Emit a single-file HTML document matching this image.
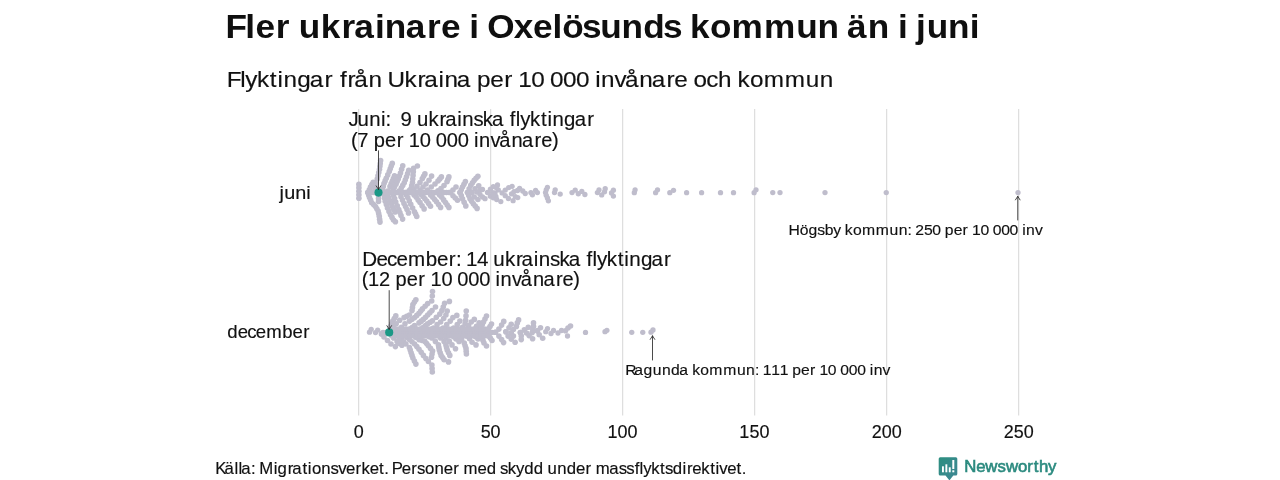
<!DOCTYPE html>
<html><head><meta charset="utf-8"><title>Chart</title>
<style>
html,body{margin:0;padding:0;background:#fff;}
svg{display:block;font-family:"Liberation Sans",sans-serif;will-change:transform;}
</style></head><body>
<svg width="1280" height="480" viewBox="0 0 1280 480">
<rect width="1280" height="480" fill="#fff"/>
<line x1="358.65" y1="109" x2="358.65" y2="415.5" stroke="#dcdcdc" stroke-width="1.15"/>
<line x1="490.65" y1="109" x2="490.65" y2="415.5" stroke="#dcdcdc" stroke-width="1.15"/>
<line x1="622.65" y1="109" x2="622.65" y2="415.5" stroke="#dcdcdc" stroke-width="1.15"/>
<line x1="754.65" y1="109" x2="754.65" y2="415.5" stroke="#dcdcdc" stroke-width="1.15"/>
<line x1="886.65" y1="109" x2="886.65" y2="415.5" stroke="#dcdcdc" stroke-width="1.15"/>
<line x1="1018.65" y1="109" x2="1018.65" y2="415.5" stroke="#dcdcdc" stroke-width="1.15"/>
<g fill="#bfbdcc">
<circle cx="358.9" cy="184.4" r="2.8"/>
<circle cx="358.9" cy="187.85" r="2.8"/>
<circle cx="358.9" cy="191.3" r="2.8"/>
<circle cx="358.9" cy="194.75" r="2.8"/>
<circle cx="358.9" cy="198.2" r="2.8"/>
<circle cx="368.2" cy="192.5" r="2.8"/>
<circle cx="369.35" cy="189.75" r="2.8"/>
<circle cx="370.5" cy="187.0" r="2.8"/>
<circle cx="371.85" cy="184.6" r="2.8"/>
<circle cx="373.2" cy="182.2" r="2.8"/>
<circle cx="367.8" cy="192.5" r="2.8"/>
<circle cx="368.65" cy="195.0" r="2.8"/>
<circle cx="369.5" cy="197.5" r="2.8"/>
<circle cx="370.62" cy="200.12" r="2.8"/>
<circle cx="371.75" cy="202.75" r="2.8"/>
<circle cx="373.62" cy="204.62" r="2.8"/>
<circle cx="375.5" cy="206.5" r="2.8"/>
<circle cx="376.8" cy="208.75" r="2.8"/>
<circle cx="378.1" cy="211.0" r="2.8"/>
<circle cx="378.68" cy="213.62" r="2.8"/>
<circle cx="379.25" cy="216.25" r="2.8"/>
<circle cx="379.62" cy="219.18" r="2.8"/>
<circle cx="380" cy="222.1" r="2.8"/>
<circle cx="374.5" cy="192.5" r="2.8"/>
<circle cx="374.92" cy="189.5" r="2.8"/>
<circle cx="375.33" cy="186.5" r="2.8"/>
<circle cx="375.75" cy="183.5" r="2.8"/>
<circle cx="377.25" cy="179.0" r="2.8"/>
<circle cx="378.0" cy="175.75" r="2.8"/>
<circle cx="378.75" cy="172.5" r="2.8"/>
<circle cx="379.5" cy="169.25" r="2.8"/>
<circle cx="379.87" cy="166.37" r="2.8"/>
<circle cx="380.23" cy="163.48" r="2.8"/>
<circle cx="380.6" cy="160.6" r="2.8"/>
<circle cx="378.5" cy="192.5" r="2.8"/>
<circle cx="378.5" cy="195.5" r="2.8"/>
<circle cx="378.5" cy="198.5" r="2.8"/>
<circle cx="378.5" cy="201.5" r="2.8"/>
<circle cx="381.0" cy="192.5" r="2.8"/>
<circle cx="382.5" cy="189.5" r="2.8"/>
<circle cx="383.25" cy="186.5" r="2.8"/>
<circle cx="384.0" cy="183.5" r="2.8"/>
<circle cx="385.12" cy="180.88" r="2.8"/>
<circle cx="386.25" cy="178.25" r="2.8"/>
<circle cx="387.75" cy="174.88" r="2.8"/>
<circle cx="389.25" cy="171.5" r="2.8"/>
<circle cx="390.25" cy="168.8" r="2.8"/>
<circle cx="391.25" cy="166.1" r="2.8"/>
<circle cx="392.25" cy="163.4" r="2.8"/>
<circle cx="382.5" cy="192.5" r="2.8"/>
<circle cx="383.75" cy="194.5" r="2.8"/>
<circle cx="384.5" cy="197.88" r="2.8"/>
<circle cx="385.25" cy="201.25" r="2.8"/>
<circle cx="386.38" cy="204.62" r="2.8"/>
<circle cx="387.5" cy="208.0" r="2.8"/>
<circle cx="389.0" cy="211.38" r="2.8"/>
<circle cx="390.5" cy="214.75" r="2.8"/>
<circle cx="392.0" cy="217.38" r="2.8"/>
<circle cx="393.5" cy="220.0" r="2.8"/>
<circle cx="395.4" cy="221.8" r="2.8"/>
<circle cx="386.8" cy="192.5" r="2.8"/>
<circle cx="387.75" cy="191.0" r="2.8"/>
<circle cx="390.0" cy="186.5" r="2.8"/>
<circle cx="391.12" cy="183.88" r="2.8"/>
<circle cx="392.25" cy="181.25" r="2.8"/>
<circle cx="393.38" cy="178.53" r="2.8"/>
<circle cx="394.5" cy="175.8" r="2.8"/>
<circle cx="386.5" cy="192.5" r="2.8"/>
<circle cx="387.5" cy="194.5" r="2.8"/>
<circle cx="389.0" cy="197.88" r="2.8"/>
<circle cx="390.5" cy="201.25" r="2.8"/>
<circle cx="391.62" cy="204.25" r="2.8"/>
<circle cx="392.75" cy="207.25" r="2.8"/>
<circle cx="393.88" cy="209.57" r="2.8"/>
<circle cx="395" cy="211.9" r="2.8"/>
<circle cx="391.5" cy="192.5" r="2.8"/>
<circle cx="393.0" cy="189.5" r="2.8"/>
<circle cx="394.5" cy="186.88" r="2.8"/>
<circle cx="396.0" cy="184.25" r="2.8"/>
<circle cx="397.12" cy="181.62" r="2.8"/>
<circle cx="398.25" cy="179.0" r="2.8"/>
<circle cx="399.38" cy="176.0" r="2.8"/>
<circle cx="400.5" cy="173.0" r="2.8"/>
<circle cx="401.62" cy="169.35" r="2.8"/>
<circle cx="402.75" cy="165.7" r="2.8"/>
<circle cx="392.0" cy="192.5" r="2.8"/>
<circle cx="393.5" cy="195.25" r="2.8"/>
<circle cx="394.62" cy="198.62" r="2.8"/>
<circle cx="395.75" cy="202.0" r="2.8"/>
<circle cx="397.25" cy="205.75" r="2.8"/>
<circle cx="398.75" cy="209.5" r="2.8"/>
<circle cx="399.88" cy="212.5" r="2.8"/>
<circle cx="401.0" cy="215.5" r="2.8"/>
<circle cx="402.6" cy="219.1" r="2.8"/>
<circle cx="398.0" cy="192.5" r="2.8"/>
<circle cx="399.0" cy="191.0" r="2.8"/>
<circle cx="401.25" cy="188.0" r="2.8"/>
<circle cx="402.75" cy="185.38" r="2.8"/>
<circle cx="404.25" cy="182.75" r="2.8"/>
<circle cx="405.38" cy="179.75" r="2.8"/>
<circle cx="406.5" cy="176.75" r="2.8"/>
<circle cx="407.62" cy="173.47" r="2.8"/>
<circle cx="408.75" cy="170.2" r="2.8"/>
<circle cx="398.5" cy="192.5" r="2.8"/>
<circle cx="401.0" cy="196.75" r="2.8"/>
<circle cx="402.5" cy="200.12" r="2.8"/>
<circle cx="404.0" cy="203.5" r="2.8"/>
<circle cx="405.5" cy="206.5" r="2.8"/>
<circle cx="407.0" cy="209.5" r="2.8"/>
<circle cx="408.5" cy="212.9" r="2.8"/>
<circle cx="407.5" cy="192.5" r="2.8"/>
<circle cx="409.25" cy="190.5" r="2.8"/>
<circle cx="411.0" cy="188.5" r="2.8"/>
<circle cx="411.75" cy="185.5" r="2.8"/>
<circle cx="412.5" cy="182.5" r="2.8"/>
<circle cx="412.77" cy="178.94" r="2.8"/>
<circle cx="413.05" cy="175.38" r="2.8"/>
<circle cx="413.33" cy="171.81" r="2.8"/>
<circle cx="413.6" cy="168.25" r="2.8"/>
<circle cx="417.4" cy="166" r="2.8"/>
<circle cx="405.0" cy="192.5" r="2.8"/>
<circle cx="406.38" cy="195.0" r="2.8"/>
<circle cx="407.75" cy="197.5" r="2.8"/>
<circle cx="409.25" cy="200.88" r="2.8"/>
<circle cx="410.75" cy="204.25" r="2.8"/>
<circle cx="412.62" cy="208.0" r="2.8"/>
<circle cx="414.5" cy="211.75" r="2.8"/>
<circle cx="415.62" cy="214.12" r="2.8"/>
<circle cx="416.75" cy="216.5" r="2.8"/>
<circle cx="411.0" cy="192.5" r="2.8"/>
<circle cx="414.0" cy="189.25" r="2.8"/>
<circle cx="417.0" cy="186.25" r="2.8"/>
<circle cx="420.0" cy="182.5" r="2.8"/>
<circle cx="422.25" cy="178.75" r="2.8"/>
<circle cx="423.57" cy="176.32" r="2.8"/>
<circle cx="424.9" cy="173.9" r="2.8"/>
<circle cx="412.0" cy="192.5" r="2.8"/>
<circle cx="414.12" cy="194.88" r="2.8"/>
<circle cx="416.25" cy="197.25" r="2.8"/>
<circle cx="418.12" cy="199.88" r="2.8"/>
<circle cx="420.0" cy="202.5" r="2.8"/>
<circle cx="422.05" cy="205.7" r="2.8"/>
<circle cx="424.1" cy="208.9" r="2.8"/>
<circle cx="417.5" cy="192.5" r="2.8"/>
<circle cx="420.0" cy="190.0" r="2.8"/>
<circle cx="423.0" cy="187.0" r="2.8"/>
<circle cx="426.0" cy="184.0" r="2.8"/>
<circle cx="429.0" cy="180.25" r="2.8"/>
<circle cx="431.6" cy="176.1" r="2.8"/>
<circle cx="419.0" cy="192.5" r="2.8"/>
<circle cx="421.0" cy="194.5" r="2.8"/>
<circle cx="423.0" cy="196.5" r="2.8"/>
<circle cx="424.88" cy="198.75" r="2.8"/>
<circle cx="426.75" cy="201.0" r="2.8"/>
<circle cx="428.62" cy="203.62" r="2.8"/>
<circle cx="430.5" cy="206.25" r="2.8"/>
<circle cx="425.0" cy="192.5" r="2.8"/>
<circle cx="427.5" cy="190.0" r="2.8"/>
<circle cx="431.25" cy="187.0" r="2.8"/>
<circle cx="435.0" cy="184.0" r="2.8"/>
<circle cx="438.0" cy="181.0" r="2.8"/>
<circle cx="439.7" cy="178.95" r="2.8"/>
<circle cx="441.4" cy="176.9" r="2.8"/>
<circle cx="428.5" cy="192.5" r="2.8"/>
<circle cx="430.62" cy="194.88" r="2.8"/>
<circle cx="432.75" cy="197.25" r="2.8"/>
<circle cx="434.62" cy="199.5" r="2.8"/>
<circle cx="436.5" cy="201.75" r="2.8"/>
<circle cx="438.55" cy="204.57" r="2.8"/>
<circle cx="440.6" cy="207.4" r="2.8"/>
<circle cx="436.0" cy="192.5" r="2.8"/>
<circle cx="438.0" cy="190.75" r="2.8"/>
<circle cx="441.0" cy="188.5" r="2.8"/>
<circle cx="444.0" cy="185.5" r="2.8"/>
<circle cx="447.0" cy="181.75" r="2.8"/>
<circle cx="447.95" cy="179.32" r="2.8"/>
<circle cx="448.9" cy="176.9" r="2.8"/>
<circle cx="437.5" cy="192.5" r="2.8"/>
<circle cx="439.62" cy="194.88" r="2.8"/>
<circle cx="441.75" cy="197.25" r="2.8"/>
<circle cx="443.62" cy="199.88" r="2.8"/>
<circle cx="445.5" cy="202.5" r="2.8"/>
<circle cx="447.2" cy="204.95" r="2.8"/>
<circle cx="448.9" cy="207.4" r="2.8"/>
<circle cx="368.0" cy="192.5" r="2.8"/>
<circle cx="370.53" cy="192.5" r="2.8"/>
<circle cx="373.06" cy="192.5" r="2.8"/>
<circle cx="375.59" cy="192.5" r="2.8"/>
<circle cx="378.12" cy="192.5" r="2.8"/>
<circle cx="380.66" cy="192.5" r="2.8"/>
<circle cx="383.19" cy="192.5" r="2.8"/>
<circle cx="385.72" cy="192.5" r="2.8"/>
<circle cx="388.25" cy="192.5" r="2.8"/>
<circle cx="390.78" cy="192.5" r="2.8"/>
<circle cx="393.31" cy="192.5" r="2.8"/>
<circle cx="395.84" cy="192.5" r="2.8"/>
<circle cx="398.38" cy="192.5" r="2.8"/>
<circle cx="400.91" cy="192.5" r="2.8"/>
<circle cx="403.44" cy="192.5" r="2.8"/>
<circle cx="405.97" cy="192.5" r="2.8"/>
<circle cx="408.5" cy="192.5" r="2.8"/>
<circle cx="411.03" cy="192.5" r="2.8"/>
<circle cx="413.56" cy="192.5" r="2.8"/>
<circle cx="416.09" cy="192.5" r="2.8"/>
<circle cx="418.62" cy="192.5" r="2.8"/>
<circle cx="421.16" cy="192.5" r="2.8"/>
<circle cx="423.69" cy="192.5" r="2.8"/>
<circle cx="426.22" cy="192.5" r="2.8"/>
<circle cx="428.75" cy="192.5" r="2.8"/>
<circle cx="431.28" cy="192.5" r="2.8"/>
<circle cx="433.81" cy="192.5" r="2.8"/>
<circle cx="436.34" cy="192.5" r="2.8"/>
<circle cx="438.88" cy="192.5" r="2.8"/>
<circle cx="441.41" cy="192.5" r="2.8"/>
<circle cx="443.94" cy="192.5" r="2.8"/>
<circle cx="446.47" cy="192.5" r="2.8"/>
<circle cx="449" cy="192.5" r="2.8"/>
<circle cx="450.3" cy="192.5" r="2.8"/>
<circle cx="453.0" cy="190.0" r="2.8"/>
<circle cx="456" cy="187" r="2.8"/>
<circle cx="450.3" cy="192.5" r="2.8"/>
<circle cx="453.0" cy="195.75" r="2.8"/>
<circle cx="455.25" cy="198.0" r="2.8"/>
<circle cx="457.5" cy="200.25" r="2.8"/>
<circle cx="460.0" cy="192.5" r="2.8"/>
<circle cx="461.25" cy="189.75" r="2.8"/>
<circle cx="462.5" cy="187.0" r="2.8"/>
<circle cx="463.95" cy="184.3" r="2.8"/>
<circle cx="465.4" cy="181.6" r="2.8"/>
<circle cx="460.0" cy="192.5" r="2.8"/>
<circle cx="461.25" cy="195.6" r="2.8"/>
<circle cx="462.5" cy="198.7" r="2.8"/>
<circle cx="464.15" cy="202.3" r="2.8"/>
<circle cx="465.8" cy="205.9" r="2.8"/>
<circle cx="467.5" cy="192.5" r="2.8"/>
<circle cx="469.15" cy="188.9" r="2.8"/>
<circle cx="470.8" cy="185.3" r="2.8"/>
<circle cx="472.5" cy="182.8" r="2.8"/>
<circle cx="474.2" cy="180.3" r="2.8"/>
<circle cx="476.05" cy="178.25" r="2.8"/>
<circle cx="477.9" cy="176.2" r="2.8"/>
<circle cx="467.5" cy="192.5" r="2.8"/>
<circle cx="468.75" cy="195.6" r="2.8"/>
<circle cx="470.0" cy="198.7" r="2.8"/>
<circle cx="471.65" cy="201.2" r="2.8"/>
<circle cx="473.3" cy="203.7" r="2.8"/>
<circle cx="475.2" cy="206.05" r="2.8"/>
<circle cx="477.1" cy="208.4" r="2.8"/>
<circle cx="471.9" cy="192.5" r="2.8"/>
<circle cx="475.0" cy="188.7" r="2.8"/>
<circle cx="478.75" cy="185.75" r="2.8"/>
<circle cx="471.9" cy="192.5" r="2.8"/>
<circle cx="474.2" cy="197.0" r="2.8"/>
<circle cx="477.9" cy="199.5" r="2.8"/>
<circle cx="477.1" cy="192.2" r="2.65"/>
<circle cx="480" cy="189.9" r="2.65"/>
<circle cx="482.5" cy="189.5" r="2.65"/>
<circle cx="480" cy="194.5" r="2.65"/>
<circle cx="482.5" cy="197" r="2.65"/>
<circle cx="485" cy="198.7" r="2.65"/>
<circle cx="487.5" cy="192.5" r="2.65"/>
<circle cx="490.4" cy="189.1" r="2.65"/>
<circle cx="493.3" cy="186.6" r="2.65"/>
<circle cx="497.5" cy="184.9" r="2.65"/>
<circle cx="490.4" cy="196.2" r="2.65"/>
<circle cx="493.3" cy="197.8" r="2.65"/>
<circle cx="495" cy="192.8" r="2.65"/>
<circle cx="498.3" cy="189.9" r="2.65"/>
<circle cx="496.7" cy="199.5" r="2.65"/>
<circle cx="500.8" cy="201.6" r="2.65"/>
<circle cx="492.6" cy="192.6" r="2.65"/>
<circle cx="495.9" cy="196.4" r="2.65"/>
<circle cx="493.3" cy="194.9" r="2.65"/>
<circle cx="496.2" cy="187.5" r="2.65"/>
<circle cx="502.1" cy="192.9" r="2.65"/>
<circle cx="505.25" cy="190.1" r="2.65"/>
<circle cx="508.7" cy="187.6" r="2.65"/>
<circle cx="512.1" cy="186.3" r="2.65"/>
<circle cx="505.25" cy="195.7" r="2.65"/>
<circle cx="508.4" cy="198.5" r="2.65"/>
<circle cx="513.1" cy="200.7" r="2.65"/>
<circle cx="511.5" cy="193.8" r="2.65"/>
<circle cx="514" cy="191.6" r="2.65"/>
<circle cx="515.25" cy="196.6" r="2.65"/>
<circle cx="517.75" cy="197.6" r="2.65"/>
<circle cx="519.6" cy="188.5" r="2.65"/>
<circle cx="522.75" cy="191" r="2.65"/>
<circle cx="525.25" cy="193.5" r="2.65"/>
<circle cx="517.5" cy="190.5" r="2.65"/>
<circle cx="530.9" cy="192.6" r="2.65"/>
<circle cx="532.4" cy="194.75" r="2.65"/>
<circle cx="535.6" cy="190.4" r="2.65"/>
<circle cx="537.4" cy="192.6" r="2.65"/>
<circle cx="545.5" cy="192.6" r="2.65"/>
<circle cx="546.25" cy="189.8" r="2.65"/>
<circle cx="547.4" cy="187.3" r="2.65"/>
<circle cx="546.25" cy="195.3" r="2.65"/>
<circle cx="547.4" cy="198" r="2.65"/>
<circle cx="548.4" cy="200.8" r="2.65"/>
<circle cx="555.2" cy="189.8" r="2.65"/>
<circle cx="554.5" cy="192.6" r="2.65"/>
<circle cx="560.2" cy="194.1" r="2.65"/>
<circle cx="572" cy="192.6" r="2.65"/>
<circle cx="575.2" cy="190.2" r="2.65"/>
<circle cx="578.3" cy="193.75" r="2.65"/>
<circle cx="581.8" cy="191.4" r="2.65"/>
<circle cx="584.9" cy="194.5" r="2.65"/>
<circle cx="597.4" cy="192.6" r="2.65"/>
<circle cx="599" cy="189.8" r="2.65"/>
<circle cx="601.7" cy="194.9" r="2.65"/>
<circle cx="604.5" cy="191.8" r="2.65"/>
<circle cx="605.2" cy="188.7" r="2.65"/>
<circle cx="611.5" cy="193" r="2.65"/>
<circle cx="613.4" cy="190.2" r="2.65"/>
<circle cx="613.4" cy="196.1" r="2.65"/>
<circle cx="634.3" cy="192.7" r="2.65"/>
<circle cx="635.1" cy="189.8" r="2.65"/>
<circle cx="655.6" cy="192.7" r="2.65"/>
<circle cx="657.5" cy="189.8" r="2.65"/>
<circle cx="669.8" cy="192.7" r="2.65"/>
<circle cx="673.5" cy="190.3" r="2.65"/>
<circle cx="686.6" cy="192.7" r="2.65"/>
<circle cx="701.6" cy="192.7" r="2.65"/>
<circle cx="720.5" cy="192.7" r="2.65"/>
<circle cx="733.5" cy="192.7" r="2.65"/>
<circle cx="754.1" cy="192.7" r="2.65"/>
<circle cx="756" cy="189.8" r="2.65"/>
<circle cx="772.75" cy="192.6" r="2.65"/>
<circle cx="780" cy="192.6" r="2.65"/>
<circle cx="825" cy="192.6" r="2.65"/>
<circle cx="886.25" cy="192.6" r="2.65"/>
<circle cx="1018" cy="192.6" r="2.65"/>
<circle cx="369.5" cy="332.2" r="2.65"/>
<circle cx="371.2" cy="329.3" r="2.65"/>
<circle cx="375.5" cy="332.6" r="2.65"/>
<circle cx="377.7" cy="330.1" r="2.65"/>
<circle cx="381.5" cy="334" r="2.65"/>
<circle cx="389.2" cy="332.5" r="2.8"/>
<circle cx="390.1" cy="329.25" r="2.8"/>
<circle cx="391.0" cy="326.0" r="2.8"/>
<circle cx="391.9" cy="323.5" r="2.8"/>
<circle cx="392.8" cy="321.0" r="2.8"/>
<circle cx="394.3" cy="318.45" r="2.8"/>
<circle cx="395.8" cy="315.9" r="2.8"/>
<circle cx="391.0" cy="330.0" r="2.8"/>
<circle cx="393.6" cy="327.2" r="2.8"/>
<circle cx="396.2" cy="323.7" r="2.8"/>
<circle cx="399.7" cy="320.2" r="2.8"/>
<circle cx="404.1" cy="317.6" r="2.8"/>
<circle cx="406.75" cy="316.3" r="2.8"/>
<circle cx="409.4" cy="315.0" r="2.8"/>
<circle cx="412.0" cy="310.6" r="2.8"/>
<circle cx="412.45" cy="307.55" r="2.8"/>
<circle cx="412.9" cy="304.5" r="2.8"/>
<circle cx="414.4" cy="302.1" r="2.8"/>
<circle cx="415.9" cy="299.7" r="2.8"/>
<circle cx="396.5" cy="332.5" r="2.8"/>
<circle cx="398.9" cy="330.7" r="2.8"/>
<circle cx="401.5" cy="327.2" r="2.8"/>
<circle cx="405.0" cy="323.7" r="2.8"/>
<circle cx="409.4" cy="321.1" r="2.8"/>
<circle cx="412.0" cy="319.35" r="2.8"/>
<circle cx="414.6" cy="317.6" r="2.8"/>
<circle cx="416.8" cy="315.4" r="2.8"/>
<circle cx="419.0" cy="313.2" r="2.8"/>
<circle cx="420.75" cy="311.05" r="2.8"/>
<circle cx="422.5" cy="308.9" r="2.8"/>
<circle cx="425.1" cy="306.25" r="2.8"/>
<circle cx="427.7" cy="303.6" r="2.8"/>
<circle cx="431.7" cy="301.0" r="2.8"/>
<circle cx="432.3" cy="296.0" r="2.8"/>
<circle cx="432.5" cy="291.5" r="2.8"/>
<circle cx="405.5" cy="332.5" r="2.8"/>
<circle cx="407.6" cy="331.6" r="2.8"/>
<circle cx="410.2" cy="329.0" r="2.8"/>
<circle cx="412.4" cy="327.25" r="2.8"/>
<circle cx="414.6" cy="325.5" r="2.8"/>
<circle cx="419.0" cy="322.9" r="2.8"/>
<circle cx="421.2" cy="321.15" r="2.8"/>
<circle cx="423.4" cy="319.4" r="2.8"/>
<circle cx="425.55" cy="317.2" r="2.8"/>
<circle cx="427.7" cy="315.0" r="2.8"/>
<circle cx="429.85" cy="312.8" r="2.8"/>
<circle cx="432.0" cy="310.6" r="2.8"/>
<circle cx="435.5" cy="307" r="2.8"/>
<circle cx="416.5" cy="332.5" r="2.8"/>
<circle cx="419.0" cy="330.7" r="2.8"/>
<circle cx="421.2" cy="328.95" r="2.8"/>
<circle cx="423.4" cy="327.2" r="2.8"/>
<circle cx="425.55" cy="325.45" r="2.8"/>
<circle cx="427.7" cy="323.7" r="2.8"/>
<circle cx="430.1" cy="322.2" r="2.8"/>
<circle cx="432.5" cy="320.7" r="2.8"/>
<circle cx="436.3" cy="317.2" r="2.8"/>
<circle cx="439.8" cy="314.1" r="2.8"/>
<circle cx="441.9" cy="310.6" r="2.8"/>
<circle cx="443.25" cy="307.1" r="2.8"/>
<circle cx="444.6" cy="303.2" r="2.8"/>
<circle cx="449.4" cy="301.4" r="2.8"/>
<circle cx="428.0" cy="332.5" r="2.8"/>
<circle cx="430.8" cy="330.3" r="2.8"/>
<circle cx="433.6" cy="328.1" r="2.8"/>
<circle cx="437.1" cy="324.6" r="2.8"/>
<circle cx="440.6" cy="322.0" r="2.8"/>
<circle cx="443.7" cy="318.5" r="2.8"/>
<circle cx="445.9" cy="315.0" r="2.8"/>
<circle cx="447.2" cy="311.1" r="2.8"/>
<circle cx="438.0" cy="332.5" r="2.8"/>
<circle cx="440.6" cy="330.7" r="2.8"/>
<circle cx="443.25" cy="328.1" r="2.8"/>
<circle cx="446.75" cy="324.6" r="2.8"/>
<circle cx="450.25" cy="321.1" r="2.8"/>
<circle cx="452.9" cy="317.6" r="2.8"/>
<circle cx="456.8" cy="315.4" r="2.8"/>
<circle cx="447.5" cy="332.5" r="2.8"/>
<circle cx="450.25" cy="330.7" r="2.8"/>
<circle cx="453.75" cy="328.1" r="2.8"/>
<circle cx="457.25" cy="324.6" r="2.8"/>
<circle cx="459.9" cy="321.1" r="2.8"/>
<circle cx="457.0" cy="332.5" r="2.8"/>
<circle cx="459.9" cy="329.9" r="2.8"/>
<circle cx="462.5" cy="327.2" r="2.8"/>
<circle cx="465.1" cy="323.7" r="2.8"/>
<circle cx="465.6" cy="320.2" r="2.8"/>
<circle cx="466.0" cy="315.9" r="2.8"/>
<circle cx="466.25" cy="311.1" r="2.8"/>
<circle cx="463.5" cy="332.5" r="2.8"/>
<circle cx="466.0" cy="329.0" r="2.8"/>
<circle cx="468.6" cy="325.5" r="2.8"/>
<circle cx="471.25" cy="322.0" r="2.8"/>
<circle cx="474.3" cy="319.4" r="2.8"/>
<circle cx="471.0" cy="332.5" r="2.8"/>
<circle cx="473.9" cy="329.9" r="2.8"/>
<circle cx="476.5" cy="326.4" r="2.8"/>
<circle cx="479.1" cy="322.9" r="2.8"/>
<circle cx="477.0" cy="332.5" r="2.8"/>
<circle cx="479.0" cy="329.75" r="2.8"/>
<circle cx="481.0" cy="327.0" r="2.8"/>
<circle cx="482.25" cy="324.5" r="2.8"/>
<circle cx="483.5" cy="322.0" r="2.8"/>
<circle cx="485.0" cy="319.0" r="2.8"/>
<circle cx="486.5" cy="316" r="2.8"/>
<circle cx="487.0" cy="332.5" r="2.8"/>
<circle cx="488.5" cy="329.0" r="2.8"/>
<circle cx="490.0" cy="326.5" r="2.8"/>
<circle cx="491.5" cy="324" r="2.8"/>
<circle cx="381.5" cy="334.0" r="2.8"/>
<circle cx="384.0" cy="337.0" r="2.8"/>
<circle cx="387.5" cy="340.5" r="2.8"/>
<circle cx="391.0" cy="344.0" r="2.8"/>
<circle cx="395.4" cy="346.6" r="2.8"/>
<circle cx="389.2" cy="332.5" r="2.8"/>
<circle cx="391.4" cy="335.2" r="2.8"/>
<circle cx="393.6" cy="337.9" r="2.8"/>
<circle cx="397.1" cy="341.4" r="2.8"/>
<circle cx="399.5" cy="343.35" r="2.8"/>
<circle cx="401.9" cy="345.3" r="2.8"/>
<circle cx="393.0" cy="332.5" r="2.8"/>
<circle cx="397.1" cy="335.25" r="2.8"/>
<circle cx="399.3" cy="337.43" r="2.8"/>
<circle cx="401.5" cy="339.6" r="2.8"/>
<circle cx="403.7" cy="341.8" r="2.8"/>
<circle cx="405.9" cy="344.0" r="2.8"/>
<circle cx="409.4" cy="347.5" r="2.8"/>
<circle cx="410.25" cy="350.12" r="2.8"/>
<circle cx="411.1" cy="352.75" r="2.8"/>
<circle cx="412.0" cy="355.38" r="2.8"/>
<circle cx="412.9" cy="358.0" r="2.8"/>
<circle cx="414.4" cy="361.05" r="2.8"/>
<circle cx="415.9" cy="364.1" r="2.8"/>
<circle cx="400.0" cy="332.5" r="2.8"/>
<circle cx="404.1" cy="335.25" r="2.8"/>
<circle cx="406.75" cy="337.43" r="2.8"/>
<circle cx="409.4" cy="339.6" r="2.8"/>
<circle cx="412.0" cy="341.8" r="2.8"/>
<circle cx="414.6" cy="344.0" r="2.8"/>
<circle cx="416.8" cy="346.62" r="2.8"/>
<circle cx="419.0" cy="349.25" r="2.8"/>
<circle cx="421.2" cy="352.32" r="2.8"/>
<circle cx="423.4" cy="355.4" r="2.8"/>
<circle cx="425.9" cy="358.45" r="2.8"/>
<circle cx="428.4" cy="361.5" r="2.8"/>
<circle cx="431.9" cy="365.0" r="2.8"/>
<circle cx="432.1" cy="368.5" r="2.8"/>
<circle cx="432.3" cy="372" r="2.8"/>
<circle cx="409.0" cy="332.5" r="2.8"/>
<circle cx="412.9" cy="335.25" r="2.8"/>
<circle cx="415.95" cy="337.43" r="2.8"/>
<circle cx="419.0" cy="339.6" r="2.8"/>
<circle cx="421.95" cy="340.5" r="2.8"/>
<circle cx="424.9" cy="341.4" r="2.8"/>
<circle cx="426.65" cy="343.57" r="2.8"/>
<circle cx="428.4" cy="345.75" r="2.8"/>
<circle cx="430.5" cy="348.38" r="2.8"/>
<circle cx="432.6" cy="351.0" r="2.8"/>
<circle cx="432.05" cy="354.1" r="2.8"/>
<circle cx="431.5" cy="357.2" r="2.8"/>
<circle cx="420.0" cy="332.5" r="2.8"/>
<circle cx="423.5" cy="334.0" r="2.8"/>
<circle cx="427.0" cy="335.5" r="2.8"/>
<circle cx="429.45" cy="336.7" r="2.8"/>
<circle cx="431.9" cy="337.9" r="2.8"/>
<circle cx="435.4" cy="341.4" r="2.8"/>
<circle cx="438.4" cy="344.9" r="2.8"/>
<circle cx="438.85" cy="347.5" r="2.8"/>
<circle cx="439.3" cy="350.1" r="2.8"/>
<circle cx="440.2" cy="352.75" r="2.8"/>
<circle cx="441.1" cy="355.4" r="2.8"/>
<circle cx="442.6" cy="357.57" r="2.8"/>
<circle cx="444.1" cy="359.75" r="2.8"/>
<circle cx="448.5" cy="361.9" r="2.8"/>
<circle cx="431.0" cy="332.5" r="2.8"/>
<circle cx="433.5" cy="334.0" r="2.8"/>
<circle cx="436.0" cy="335.5" r="2.8"/>
<circle cx="440.6" cy="337.9" r="2.8"/>
<circle cx="444.1" cy="341.4" r="2.8"/>
<circle cx="445.9" cy="344.9" r="2.8"/>
<circle cx="446.55" cy="347.5" r="2.8"/>
<circle cx="447.2" cy="350.1" r="2.8"/>
<circle cx="448.5" cy="352.75" r="2.8"/>
<circle cx="449.8" cy="355.4" r="2.8"/>
<circle cx="440.0" cy="332.5" r="2.8"/>
<circle cx="442.95" cy="335.2" r="2.8"/>
<circle cx="445.9" cy="337.9" r="2.8"/>
<circle cx="449.4" cy="341.4" r="2.8"/>
<circle cx="452.0" cy="344.9" r="2.8"/>
<circle cx="455.5" cy="348.8" r="2.8"/>
<circle cx="448.0" cy="332.5" r="2.8"/>
<circle cx="452.0" cy="335.0" r="2.8"/>
<circle cx="454.0" cy="337.0" r="2.8"/>
<circle cx="456.0" cy="339.0" r="2.8"/>
<circle cx="459" cy="341.4" r="2.8"/>
<circle cx="454.0" cy="332.5" r="2.8"/>
<circle cx="456.05" cy="334.75" r="2.8"/>
<circle cx="458.1" cy="337.0" r="2.8"/>
<circle cx="461.6" cy="339.6" r="2.8"/>
<circle cx="464.25" cy="343.1" r="2.8"/>
<circle cx="465.12" cy="345.75" r="2.8"/>
<circle cx="466.0" cy="348.4" r="2.8"/>
<circle cx="466.2" cy="351.2" r="2.8"/>
<circle cx="466.4" cy="354" r="2.8"/>
<circle cx="463.0" cy="332.5" r="2.8"/>
<circle cx="466.5" cy="336.0" r="2.8"/>
<circle cx="469.5" cy="338.75" r="2.8"/>
<circle cx="472.1" cy="342.25" r="2.8"/>
<circle cx="476" cy="344.9" r="2.8"/>
<circle cx="470.0" cy="332.5" r="2.8"/>
<circle cx="474.0" cy="335.0" r="2.8"/>
<circle cx="476.0" cy="337.0" r="2.8"/>
<circle cx="478" cy="339" r="2.8"/>
<circle cx="476.0" cy="332.5" r="2.8"/>
<circle cx="479.0" cy="335.0" r="2.8"/>
<circle cx="482.0" cy="338.0" r="2.8"/>
<circle cx="483.0" cy="340.5" r="2.8"/>
<circle cx="484.0" cy="343.0" r="2.8"/>
<circle cx="486.5" cy="346" r="2.8"/>
<circle cx="485.0" cy="332.5" r="2.8"/>
<circle cx="487.0" cy="334.25" r="2.8"/>
<circle cx="489.0" cy="336.0" r="2.8"/>
<circle cx="490.5" cy="338.25" r="2.8"/>
<circle cx="492" cy="340.5" r="2.8"/>
<circle cx="383.0" cy="332.5" r="2.8"/>
<circle cx="385.79" cy="332.5" r="2.8"/>
<circle cx="388.59" cy="332.5" r="2.8"/>
<circle cx="391.38" cy="332.5" r="2.8"/>
<circle cx="394.18" cy="332.5" r="2.8"/>
<circle cx="396.97" cy="332.5" r="2.8"/>
<circle cx="399.77" cy="332.5" r="2.8"/>
<circle cx="402.56" cy="332.5" r="2.8"/>
<circle cx="405.36" cy="332.5" r="2.8"/>
<circle cx="408.15" cy="332.5" r="2.8"/>
<circle cx="410.95" cy="332.5" r="2.8"/>
<circle cx="413.74" cy="332.5" r="2.8"/>
<circle cx="416.54" cy="332.5" r="2.8"/>
<circle cx="419.33" cy="332.5" r="2.8"/>
<circle cx="422.13" cy="332.5" r="2.8"/>
<circle cx="424.92" cy="332.5" r="2.8"/>
<circle cx="427.72" cy="332.5" r="2.8"/>
<circle cx="430.51" cy="332.5" r="2.8"/>
<circle cx="433.31" cy="332.5" r="2.8"/>
<circle cx="436.1" cy="332.5" r="2.8"/>
<circle cx="438.9" cy="332.5" r="2.8"/>
<circle cx="441.69" cy="332.5" r="2.8"/>
<circle cx="444.49" cy="332.5" r="2.8"/>
<circle cx="447.28" cy="332.5" r="2.8"/>
<circle cx="450.08" cy="332.5" r="2.8"/>
<circle cx="452.87" cy="332.5" r="2.8"/>
<circle cx="455.67" cy="332.5" r="2.8"/>
<circle cx="458.46" cy="332.5" r="2.8"/>
<circle cx="461.26" cy="332.5" r="2.8"/>
<circle cx="464.05" cy="332.5" r="2.8"/>
<circle cx="466.85" cy="332.5" r="2.8"/>
<circle cx="469.64" cy="332.5" r="2.8"/>
<circle cx="472.44" cy="332.5" r="2.8"/>
<circle cx="475.23" cy="332.5" r="2.8"/>
<circle cx="478.03" cy="332.5" r="2.8"/>
<circle cx="480.82" cy="332.5" r="2.8"/>
<circle cx="483.62" cy="332.5" r="2.8"/>
<circle cx="486.41" cy="332.5" r="2.8"/>
<circle cx="489.21" cy="332.5" r="2.8"/>
<circle cx="492" cy="332.5" r="2.8"/>
<circle cx="392.0" cy="336.0" r="2.8"/>
<circle cx="395.56" cy="336.0" r="2.8"/>
<circle cx="399.11" cy="336.0" r="2.8"/>
<circle cx="402.67" cy="336.0" r="2.8"/>
<circle cx="406.22" cy="336.0" r="2.8"/>
<circle cx="409.78" cy="336.0" r="2.8"/>
<circle cx="413.33" cy="336.0" r="2.8"/>
<circle cx="416.89" cy="336.0" r="2.8"/>
<circle cx="420.44" cy="336.0" r="2.8"/>
<circle cx="424.0" cy="336.0" r="2.8"/>
<circle cx="427.56" cy="336.0" r="2.8"/>
<circle cx="431.11" cy="336.0" r="2.8"/>
<circle cx="434.67" cy="336.0" r="2.8"/>
<circle cx="438.22" cy="336.0" r="2.8"/>
<circle cx="441.78" cy="336.0" r="2.8"/>
<circle cx="445.33" cy="336.0" r="2.8"/>
<circle cx="448.89" cy="336.0" r="2.8"/>
<circle cx="452.44" cy="336.0" r="2.8"/>
<circle cx="456.0" cy="336.0" r="2.8"/>
<circle cx="459.56" cy="336.0" r="2.8"/>
<circle cx="463.11" cy="336.0" r="2.8"/>
<circle cx="466.67" cy="336.0" r="2.8"/>
<circle cx="470.22" cy="336.0" r="2.8"/>
<circle cx="473.78" cy="336.0" r="2.8"/>
<circle cx="477.33" cy="336.0" r="2.8"/>
<circle cx="480.89" cy="336.0" r="2.8"/>
<circle cx="484.44" cy="336.0" r="2.8"/>
<circle cx="488" cy="336.0" r="2.8"/>
<circle cx="392.0" cy="329.0" r="2.8"/>
<circle cx="395.56" cy="329.0" r="2.8"/>
<circle cx="399.11" cy="329.0" r="2.8"/>
<circle cx="402.67" cy="329.0" r="2.8"/>
<circle cx="406.22" cy="329.0" r="2.8"/>
<circle cx="409.78" cy="329.0" r="2.8"/>
<circle cx="413.33" cy="329.0" r="2.8"/>
<circle cx="416.89" cy="329.0" r="2.8"/>
<circle cx="420.44" cy="329.0" r="2.8"/>
<circle cx="424.0" cy="329.0" r="2.8"/>
<circle cx="427.56" cy="329.0" r="2.8"/>
<circle cx="431.11" cy="329.0" r="2.8"/>
<circle cx="434.67" cy="329.0" r="2.8"/>
<circle cx="438.22" cy="329.0" r="2.8"/>
<circle cx="441.78" cy="329.0" r="2.8"/>
<circle cx="445.33" cy="329.0" r="2.8"/>
<circle cx="448.89" cy="329.0" r="2.8"/>
<circle cx="452.44" cy="329.0" r="2.8"/>
<circle cx="456.0" cy="329.0" r="2.8"/>
<circle cx="459.56" cy="329.0" r="2.8"/>
<circle cx="463.11" cy="329.0" r="2.8"/>
<circle cx="466.67" cy="329.0" r="2.8"/>
<circle cx="470.22" cy="329.0" r="2.8"/>
<circle cx="473.78" cy="329.0" r="2.8"/>
<circle cx="477.33" cy="329.0" r="2.8"/>
<circle cx="480.89" cy="329.0" r="2.8"/>
<circle cx="484.44" cy="329.0" r="2.8"/>
<circle cx="488" cy="329.0" r="2.8"/>
<circle cx="495.4" cy="332.3" r="2.8"/>
<circle cx="498.9" cy="329.1" r="2.8"/>
<circle cx="501.6" cy="325.1" r="2.8"/>
<circle cx="503.75" cy="321.4" r="2.8"/>
<circle cx="495.4" cy="332.3" r="2.8"/>
<circle cx="498.9" cy="336.1" r="2.8"/>
<circle cx="501.6" cy="339.6" r="2.8"/>
<circle cx="503.6" cy="342.6" r="2.8"/>
<circle cx="505.9" cy="331.7" r="2.8"/>
<circle cx="509.0" cy="327.75" r="2.8"/>
<circle cx="511.2" cy="324.25" r="2.8"/>
<circle cx="505.9" cy="331.7" r="2.8"/>
<circle cx="508.1" cy="336.1" r="2.8"/>
<circle cx="511.2" cy="339.1" r="2.8"/>
<circle cx="515.1" cy="342.2" r="2.8"/>
<circle cx="511.2" cy="333.0" r="2.8"/>
<circle cx="513.4" cy="329.5" r="2.8"/>
<circle cx="516.4" cy="326.4" r="2.8"/>
<circle cx="517.3" cy="322.9" r="2.8"/>
<circle cx="518.6" cy="319.9" r="2.8"/>
<circle cx="511.2" cy="333.0" r="2.8"/>
<circle cx="513.4" cy="336.1" r="2.8"/>
<circle cx="520.4" cy="332.6" r="2.8"/>
<circle cx="524.3" cy="329.9" r="2.8"/>
<circle cx="528.25" cy="327.3" r="2.8"/>
<circle cx="520.4" cy="332.6" r="2.8"/>
<circle cx="521.25" cy="336.1" r="2.8"/>
<circle cx="521.25" cy="339.6" r="2.8"/>
<circle cx="526.5" cy="333.0" r="2.8"/>
<circle cx="529.1" cy="335.6" r="2.8"/>
<circle cx="532.6" cy="338.7" r="2.8"/>
<circle cx="532.2" cy="332.6" r="2.8"/>
<circle cx="532.8" cy="329.5" r="2.8"/>
<circle cx="533.5" cy="326.4" r="2.8"/>
<circle cx="533.5" cy="322.9" r="2.8"/>
<circle cx="537.4" cy="330.8" r="2.8"/>
<circle cx="540.5" cy="327.75" r="2.8"/>
<circle cx="537.4" cy="330.8" r="2.8"/>
<circle cx="539.2" cy="334.75" r="2.8"/>
<circle cx="542.7" cy="338.25" r="2.8"/>
<circle cx="545.75" cy="331.7" r="2.65"/>
<circle cx="547.5" cy="328.6" r="2.65"/>
<circle cx="551" cy="333.5" r="2.65"/>
<circle cx="553.5" cy="330.5" r="2.65"/>
<circle cx="558" cy="333" r="2.65"/>
<circle cx="561.5" cy="330.5" r="2.65"/>
<circle cx="565.5" cy="330.8" r="2.8"/>
<circle cx="568.0" cy="328.0" r="2.8"/>
<circle cx="570.5" cy="326" r="2.8"/>
<circle cx="567.5" cy="336" r="2.65"/>
<circle cx="585.5" cy="332.4" r="2.65"/>
<circle cx="605" cy="331.7" r="2.65"/>
<circle cx="606.9" cy="330.3" r="2.65"/>
<circle cx="631.75" cy="332.3" r="2.65"/>
<circle cx="642.75" cy="332.3" r="2.65"/>
<circle cx="651" cy="332.2" r="2.65"/>
<circle cx="653" cy="330" r="2.65"/>
</g>
<circle cx="378.5" cy="192.6" r="4.05" fill="#1b9886"/>
<circle cx="389.2" cy="332.4" r="4.05" fill="#1b9886"/>
<path d="M378.5 150.8 L378.5 189.5 M376.2 185.9 L378.5 189.5 L380.8 185.9" stroke="#2b2b2b" stroke-width="0.85" fill="none" stroke-linecap="round" stroke-linejoin="miter"/>
<path d="M389.2 290.6 L389.2 329.3 M386.9 325.7 L389.2 329.3 L391.5 325.7" stroke="#2b2b2b" stroke-width="0.85" fill="none" stroke-linecap="round" stroke-linejoin="miter"/>
<path d="M1017.75 220 L1017.75 196.3 M1015.45 199.9 L1017.75 196.3 L1020.05 199.9" stroke="#2b2b2b" stroke-width="0.85" fill="none" stroke-linecap="round" stroke-linejoin="miter"/>
<path d="M652.5 360 L652.5 335.8 M650.2 339.40000000000003 L652.5 335.8 L654.8 339.40000000000003" stroke="#2b2b2b" stroke-width="0.85" fill="none" stroke-linecap="round" stroke-linejoin="miter"/>
<text transform="scale(1.0567,1)" x="213.30 232.14 241.76 260.91 261.91 282.79 303.47 323.16 335.25 354.87 364.22 383.99 404.21 417.30 418.30 444.04 445.04 461.19 486.30 504.36 522.92 532.00 550.76 568.00 588.19 608.70 627.40 628.40 653.04 671.84 692.25 722.95 753.42 773.61 774.61 801.57 821.13 822.13 849.85 850.85 866.78 877.04 897.23 917.76" y="38.0" font-size="33.3" font-weight="bold" fill="#0f0f0f">Fler ukrainare i Oxelösunds kommun än i juni</text>
<text transform="scale(1.0624,1)" x="213.47 226.03 230.96 241.92 254.03 261.26 266.81 279.82 291.53 305.46 306.46 320.04 327.11 333.48 346.94 347.94 364.83 380.84 393.02 399.39 412.80 418.35 429.98 430.98 448.96 461.58 474.54 475.54 487.90 500.06 501.06 517.77 529.95 542.12 543.12 560.27 565.82 578.52 588.26 601.72 613.36 627.29 634.70 635.70 652.73 664.80 675.81 676.81 694.15 705.88 718.85 738.75 758.54 771.69" y="86.6" font-size="22.9" font-weight="normal" fill="#111" stroke="#111" stroke-width="0.15">Flyktingar från Ukraina per 10 000 invånare och kommun</text>
<text transform="scale(1.0335,1)" x="337.09 345.83 357.27 368.62 373.08 374.08 375.08 387.63 388.63 403.47 414.61 425.18 430.74 442.36 447.22 458.13 467.22 476.09 477.09 493.20 499.03 503.35 512.88 523.38 529.66 534.52 545.83 556.02 568.12" y="126.0" font-size="19.7" font-weight="normal" fill="#111" stroke="#111" stroke-width="0.15" xml:space="preserve">Juni:  9 ukrainska flyktingar</text>
<text transform="scale(1.0204,1)" x="343.88 350.02 351.02 366.25 377.39 388.80 389.80 400.65 411.41 412.41 427.05 437.81 448.57 449.57 464.52 469.51 480.72 489.35 501.24 511.52 523.78 530.37 540.95" y="146.7" font-size="19.7" font-weight="normal" fill="#111" stroke="#111" stroke-width="0.15">(7 per 10 000 invånare)</text>
<text transform="scale(1.0448,1)" x="346.70 360.39 370.48 379.56 390.44 407.50 418.38 429.56 436.37 437.37 446.01 456.66 457.66 472.22 483.27 493.77 499.27 510.83 515.62 526.45 535.47 544.26 545.26 561.27 567.05 571.31 580.77 591.20 597.44 602.24 613.46 623.57 635.58" y="265.8" font-size="19.7" font-weight="normal" fill="#111" stroke="#111" stroke-width="0.15">December: 14 ukrainska flyktingar</text>
<text transform="scale(1.0178,1)" x="355.31 361.62 372.38 373.38 388.48 399.63 411.05 412.05 422.92 433.68 434.68 449.34 460.11 470.88 471.88 486.84 491.84 503.06 511.70 523.60 533.90 546.17 552.76 563.35" y="286.3" font-size="19.7" font-weight="normal" fill="#111" stroke="#111" stroke-width="0.15">(12 per 10 000 invånare)</text>
<text transform="scale(1.0228,1)" x="770.91 781.93 790.57 799.15 806.48 814.79 815.79 826.00 833.96 842.79 856.31 869.74 878.67 887.30 888.30 894.91 903.30 911.45 912.45 923.81 932.38 941.17 942.17 950.26 958.53 959.53 970.56 978.83 987.10 988.10 999.41 1003.20 1011.83" y="234.9" font-size="15.4" font-weight="normal" fill="#111" stroke="#111" stroke-width="0.15">Högsby kommun: 250 per 10 000 inv</text>
<text transform="scale(1.0200,1)" x="612.91 621.90 630.98 640.01 648.98 657.86 665.85 666.85 678.57 686.57 695.45 709.02 722.50 731.47 740.12 741.12 747.77 756.08 764.38 765.38 776.79 785.39 794.22 795.22 803.35 811.65 812.65 823.73 832.04 840.34 841.34 852.69 856.51 865.17" y="374.6" font-size="15.4" font-weight="normal" fill="#111" stroke="#111" stroke-width="0.15">Ragunda kommun: 111 per 10 000 inv</text>
<text transform="scale(1.0668,1)" x="201.82 210.50 219.83 223.60 226.27 235.23 236.23 243.12 256.50 260.23 269.65 274.04 283.57 288.54 292.38 301.23 309.86 316.99 324.40 333.32 338.81 346.53 355.39 360.11 361.11 367.27 376.67 385.58 390.90 398.34 407.19 415.90 424.82 425.82 434.44 447.71 456.21 457.21 468.71 475.90 483.65 491.33 500.34 501.34 513.25 522.30 531.25 540.02 548.94 549.94 558.55 571.12 579.97 586.98 594.90 599.52 602.92 610.46 618.78 623.39 630.72 639.78 643.93 649.03 657.38 665.70 670.68 674.20 681.61 690.47 695.19" y="473.8" font-size="15.7" font-weight="normal" fill="#111" stroke="#111" stroke-width="0.15">Källa: Migrationsverket. Personer med skydd under massflyktsdirektivet.</text>
<text transform="scale(1.1177,1)" x="250.15 254.29 264.07 273.93" y="198.75" font-size="17.8" font-weight="normal" fill="#111" stroke="#111" stroke-width="0.15">juni</text>
<text transform="scale(1.0446,1)" x="217.53 227.51 236.67 244.91 254.79 270.26 280.13 290.27" y="338.5" font-size="17.8" font-weight="normal" fill="#111" stroke="#111" stroke-width="0.15">december</text>
<text transform="scale(0.9889,1)" x="357.64" y="438.1" font-size="18.2" font-weight="normal" fill="#111" stroke="#111" stroke-width="0.15">0</text>
<text transform="scale(0.9889,1)" x="486.06 496.04" y="438.1" font-size="18.2" font-weight="normal" fill="#111" stroke="#111" stroke-width="0.15">50</text>
<text transform="scale(0.9889,1)" x="614.20 624.32 634.44" y="438.1" font-size="18.2" font-weight="normal" fill="#111" stroke="#111" stroke-width="0.15">100</text>
<text transform="scale(0.9889,1)" x="747.68 757.94 767.92" y="438.1" font-size="18.2" font-weight="normal" fill="#111" stroke="#111" stroke-width="0.15">150</text>
<text transform="scale(0.9889,1)" x="881.43 891.55 901.67" y="438.1" font-size="18.2" font-weight="normal" fill="#111" stroke="#111" stroke-width="0.15">200</text>
<text transform="scale(0.9889,1)" x="1014.91 1025.17 1035.15" y="438.1" font-size="18.2" font-weight="normal" fill="#111" stroke="#111" stroke-width="0.15">250</text>
<text transform="scale(1.0107,1)" x="954.14 965.86 974.83 986.96 995.32 1007.32 1016.47 1022.91 1027.91 1036.98" y="471.7" font-size="16.6" font-weight="normal" fill="#2b8a7f" stroke="#2b8a7f" stroke-width="0.6">Newsworthy</text>
<g>
<defs><linearGradient id="lg" x1="0" y1="0" x2="1" y2="1"><stop offset="0" stop-color="#2c8f80"/><stop offset="1" stop-color="#3f8694"/></linearGradient></defs>
<path d="M940.2 457.3 H955.8 Q957.3 457.3 957.3 458.8 V474 Q957.3 475.5 955.8 475.5 H953.3 L949.4 480.4 L945.5 475.5 H940.2 Q938.7 475.5 938.7 474 V458.8 Q938.7 457.3 940.2 457.3 Z" fill="url(#lg)"/>
<rect x="942" y="466.3" width="1.9" height="6" fill="#fff"/>
<rect x="945.4" y="464.3" width="1.9" height="8" fill="#fff"/>
<rect x="948.8" y="467.3" width="1.9" height="5" fill="#fff"/>
<rect x="952.3" y="460" width="2" height="9" fill="#fff"/>
<rect x="952.3" y="470.3" width="2" height="2" fill="#fff"/>
</g>
</svg>
</body></html>
